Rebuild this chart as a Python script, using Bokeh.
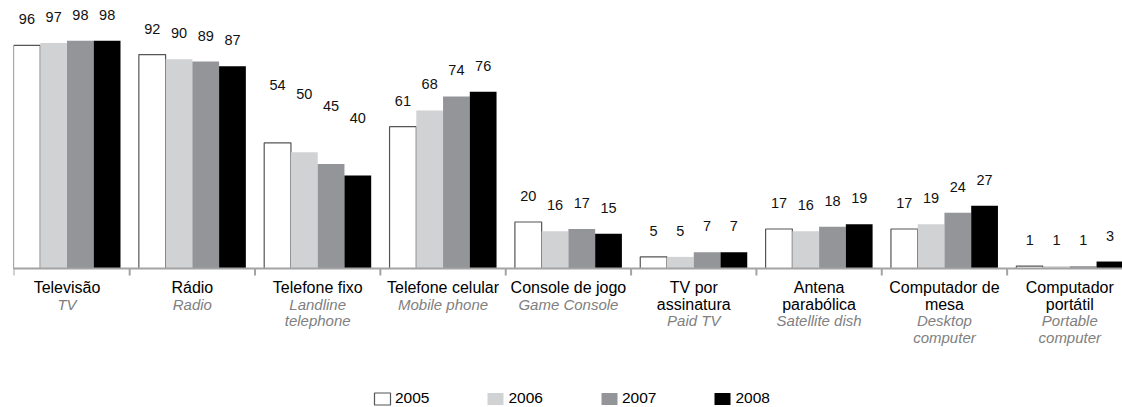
from bokeh.plotting import figure
from bokeh.models import ColumnDataSource, Span, Range1d
from bokeh.core.properties import value
from bokeh.embed import file_html
from bokeh.resources import INLINE

# ---------------- data ----------------
categories_pt = ["Televisão", "Rádio", "Telefone fixo", "Telefone celular", "Console de jogo",
                 "TV por\nassinatura", "Antena\nparabólica", "Computador de\nmesa", "Computador\nportátil"]
categories_en = ["TV", "Radio", "Landline\ntelephone", "Mobile phone", "Game Console",
                 "Paid TV", "Satellite dish", "Desktop\ncomputer", "Portable\ncomputer"]
years = ["2005", "2006", "2007", "2008"]
v2005 = [96, 92, 54, 61, 20, 5, 17, 17, 1]
v2006 = [97, 90, 50, 68, 16, 5, 16, 19, 1]
v2007 = [98, 89, 45, 74, 17, 7, 18, 24, 1]
v2008 = [98, 87, 40, 76, 15, 7, 19, 27, 3]
series = [v2005, v2006, v2007, v2008]

# ---------------- styles / layout ----------------
fills = ["#ffffff", "#d1d2d4", "#939598", "#000000"]
lines = ["#555555", None, None, None]
FONT = "Liberation Sans"
W, H = 1122, 407
LEFT = 13
SCALE = 2.325          # px per percentage point
CAT_PX = 125.35        # px per category
BASE_FROM_TOP = 268    # px from frame top to baseline
BW = 26.75 / CAT_PX    # bar width in category units
LABEL_GAP = 26         # px between bar top and value-label baseline
# the original chart has the labels of one group lifted higher
label_lift_px = {"Telefone fixo": 32}
n = len(categories_pt)

x_start = 0.5 - (66.5 - 13) / CAT_PX
x_end = x_start + (W - LEFT) / CAT_PX
y_end = BASE_FROM_TOP / SCALE
y_start = y_end - H / SCALE

p = figure(width=W, height=H, output_backend="svg", toolbar_location=None,
           x_range=Range1d(x_start, x_end), y_range=Range1d(y_start, y_end),
           min_border=0, min_border_left=LEFT, outline_line_color=None)
p.axis.visible = False
p.grid.visible = False

for j, vals in enumerate(series):
    xs = [i + 0.5 + (j - 1.5) * BW for i in range(n)]
    ly = [v + (LABEL_GAP + label_lift_px.get(categories_pt[i], 0)) / SCALE
          for i, v in enumerate(vals)]
    src = ColumnDataSource(dict(x=xs, top=vals, lab=[str(v) for v in vals], ly=ly))
    p.vbar(x="x", top="top", bottom=0, width=BW, source=src,
           fill_color=fills[j], line_color=lines[j] if lines[j] else fills[j],
           line_width=1.2 if lines[j] else 0.01, legend_label=years[j])
    p.text(x="x", y="ly", text="lab", source=src, text_font=value(FONT),
           text_font_size="14.5px", text_align="center", text_baseline="alphabetic",
           text_color="#111111")

# axis line and ticks
p.add_layout(Span(location=0, dimension="width", line_color="#a3a3a3", line_width=2))
tick_x = [x_start] + [float(i) for i in range(1, n)]
p.segment(x0=tick_x, x1=tick_x, y0=[0] * len(tick_x), y1=[-7 / SCALE] * len(tick_x),
          line_color="#a3a3a3", line_width=2)

# category labels (Portuguese black, English grey italic)
LINE = 16.7
FIRST = 19
pt_x, pt_y, pt_t, en_x, en_y, en_t = [], [], [], [], [], []
for i in range(n):
    k = 0
    for ln in categories_pt[i].split("\n"):
        pt_x.append(i + 0.5); pt_y.append(-(FIRST + k * LINE) / SCALE); pt_t.append(ln); k += 1
    for ln in categories_en[i].split("\n"):
        en_x.append(i + 0.5); en_y.append(-(FIRST + k * LINE) / SCALE); en_t.append(ln); k += 1
p.text(x=pt_x, y=pt_y, text=pt_t, text_font=value(FONT), text_font_size="16px",
       text_align="center", text_baseline="alphabetic", text_color="#000000")
p.text(x=en_x, y=en_y, text=en_t, text_font=value(FONT), text_font_size="15px",
       text_font_style="italic", text_align="center", text_baseline="alphabetic",
       text_color="#808080")

# legend
lg = p.legend[0]
lg.location = (359, 0)
lg.orientation = "horizontal"
lg.glyph_width = 20
lg.glyph_height = 15
lg.label_text_font = FONT
lg.label_text_font_size = "15.5px"
lg.label_text_color = "#000000"
lg.label_standoff = 3
lg.spacing = 56
lg.padding = 0
lg.margin = 0
lg.border_line_alpha = 0
lg.background_fill_alpha = 0

open("out.html", "w").write(file_html(p, INLINE))
